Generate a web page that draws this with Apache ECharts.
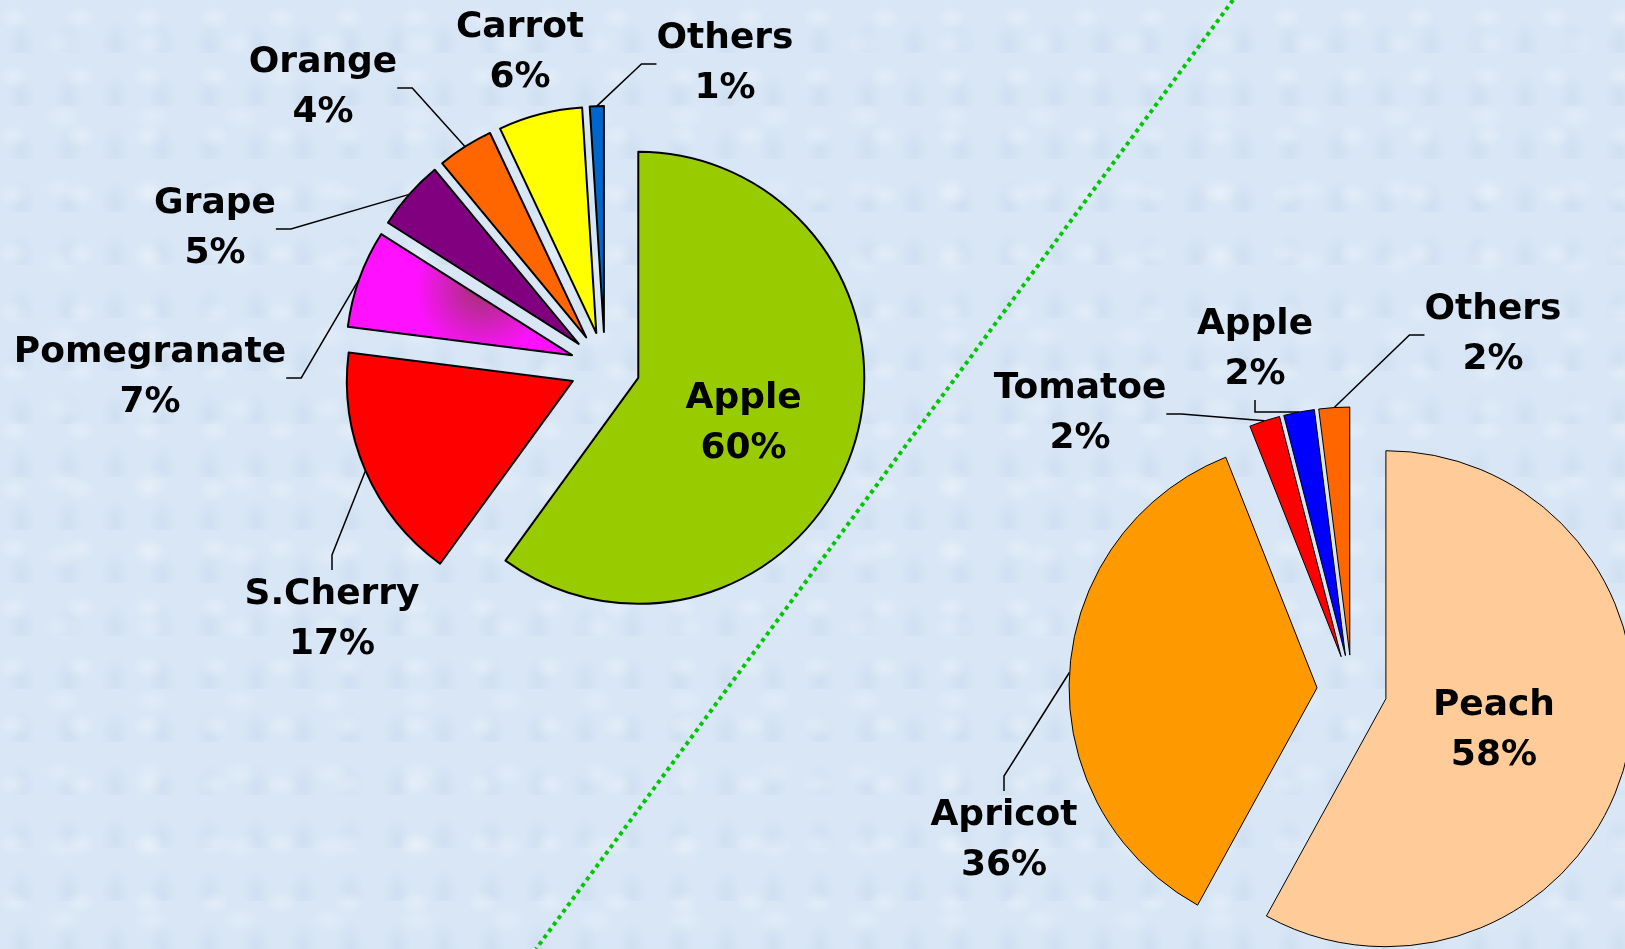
<!DOCTYPE html>
<html>
<head>
    <meta charset="UTF-8">
    <title></title>
    <script src="https://cdn.jsdelivr.net/npm/echarts@6/dist/echarts.min.js"></script>
    <style>
        * { padding: 0; margin: 0; }
        body {
            width: 1625px;
            height: 949px;
            overflow: hidden;
            background-color: #d8e6f5;
            background-image:
                radial-gradient(ellipse at 20% 30%, rgba(255,255,255,0.28) 0, rgba(255,255,255,0) 16px),
                radial-gradient(ellipse at 70% 60%, rgba(255,255,255,0.22) 0, rgba(255,255,255,0) 20px),
                radial-gradient(ellipse at 45% 85%, rgba(170,195,225,0.18) 0, rgba(170,195,225,0) 14px);
            background-size: 67px 59px, 89px 73px, 47px 53px;
        }
        #main { width: 1625px; height: 949px; }
    </style>
</head>
<body>
    <div id="main"></div>
<script>
    // left pie (clockwise from 12 o'clock)
    var leftNames = ['Apple', 'S.Cherry', 'Pomegranate', 'Grape', 'Orange', 'Carrot', 'Others'];
    var leftValues = [60, 17, 7, 5, 4, 6, 1];
    // right pie
    var rightNames = ['Peach', 'Apricot', 'Tomatoe', 'Apple', 'Others'];
    var rightValues = [58, 36, 2, 2, 2];

    var leftColors = ['#99cc00', '#ff0000', 'pome', '#800080', '#ff6600', '#ffff00', '#0066cc'];
    var rightColors = ['#ffcc99', '#ff9900', '#ff0000', '#0000ff', '#ff6600'];

    // centre of each outside label block, null = label inside the slice
    var leftSpots = [null, [332, 620], [150, 378], [215, 229], [323, 88], [520, 53], [725, 64]];
    var rightSpots = [null, [1004, 841], [1080, 414], [1255, 350], [1493, 335]];
    var noLeader = ['Carrot'];
    // nudge for the labels that sit inside the big slices
    var insideNudge = { left: [-5, 10], right: [-15, 0] };

    var pomegranateFill = {
        type: 'radial', x: 0.6, y: 0.45, r: 0.55,
        colorStops: [{ offset: 0, color: '#a0336e' }, { offset: 1, color: '#ff11ff' }]
    };

    var EXPLODE = 35;

    // one series per slice so every slice can be pulled out along its own bisector
    function explodedPie(names, values, colors, spots, cx, cy, r, border, nudge) {
        var total = 0, i;
        for (i = 0; i < values.length; i++) total += values[i];
        var list = [];
        var cum = 0;
        for (i = 0; i < values.length; i++) {
            var a0 = cum / total * 360;
            var a1 = (cum + values[i]) / total * 360;
            var mid = (a0 + a1) / 2 * Math.PI / 180;
            cum += values[i];
            var spot = spots[i];
            list.push({
                type: 'pie',
                center: [cx + EXPLODE * Math.sin(mid), cy - EXPLODE * Math.cos(mid)],
                radius: r,
                startAngle: 90 - a0,
                endAngle: 90 - a1,
                clockwise: true,
                animation: false,
                silent: true,
                avoidLabelOverlap: false,
                itemStyle: { borderColor: '#000', borderWidth: border },
                label: {
                    show: true,
                    position: spot ? 'outside' : 'inside',
                    formatter: '{b}\n{c}%',
                    color: '#000',
                    fontFamily: 'DejaVu Sans',
                    fontWeight: 'bold',
                    fontSize: 36,
                    lineHeight: 50
                },
                labelLine: {
                    show: !!spot && noLeader.indexOf(names[i]) < 0,
                    length: 15,
                    length2: 15,
                    lineStyle: { color: '#000', width: 1.5 }
                },
                labelLayout: (function (s) {
                    return function () {
                        if (!s) return { dx: nudge[0], dy: nudge[1] };
                        return { x: s[0], y: s[1], align: 'center', verticalAlign: 'middle' };
                    };
                })(spot),
                data: [{
                    name: names[i],
                    value: values[i],
                    itemStyle: { color: colors[i] == 'pome' ? pomegranateFill : colors[i] }
                }]
            });
        }
        return list;
    }

    var myChart = echarts.init(document.getElementById('main'));
    var option = {
        backgroundColor: 'transparent',
        graphic: [{
            type: 'line',
            shape: { x1: 1233, y1: 0, x2: 536, y2: 949 },
            style: { stroke: '#00c800', lineWidth: 4, lineDash: [4, 4] },
            z: -1
        }],
        series: explodedPie(leftNames, leftValues, leftColors, leftSpots, 605, 367, 226, 2, insideNudge.left)
            .concat(explodedPie(rightNames, rightValues, rightColors, rightSpots, 1352, 690, 248, 1, insideNudge.right))
    };
    myChart.setOption(option);
</script>
</body>
</html>
